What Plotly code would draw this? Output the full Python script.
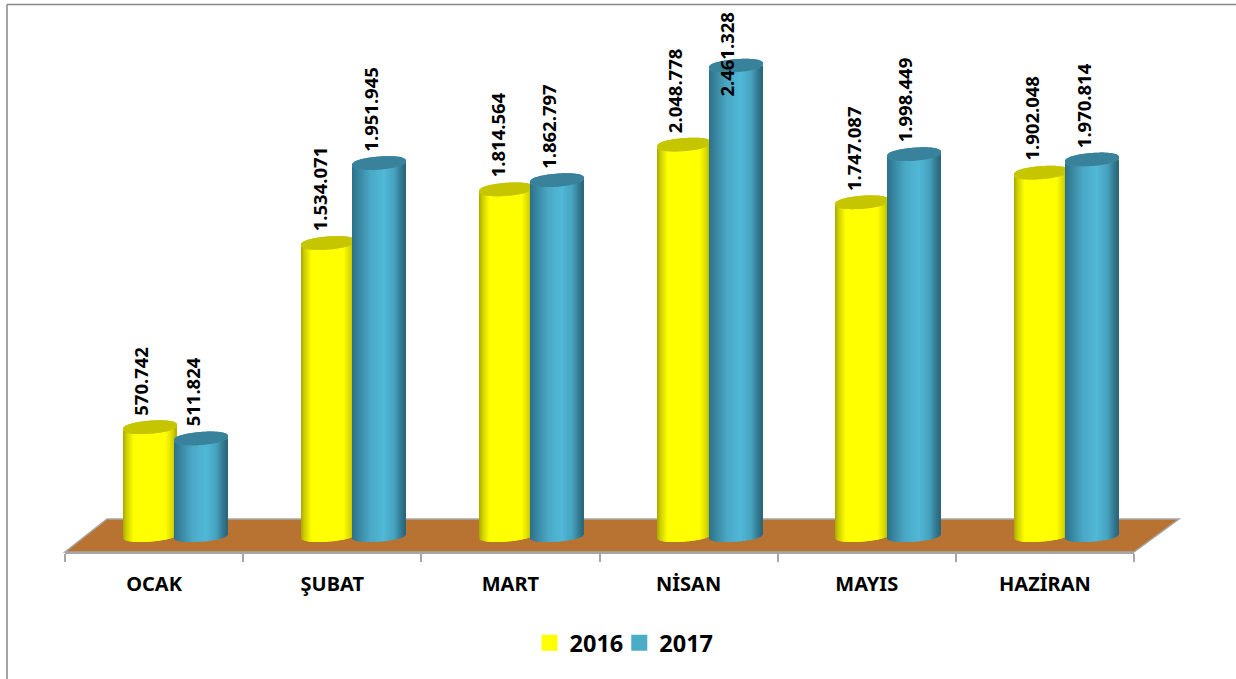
import plotly.graph_objects as go

months = ["OCAK", "ŞUBAT", "MART", "NİSAN", "MAYIS", "HAZİRAN"]
series_names = ["2016", "2017"]
values_2016 = [570742, 1534071, 1814564, 2048778, 1747087, 1902048]
values_2017 = [511824, 1951945, 1862797, 2461328, 1998449, 1970814]

W, H = 1236, 679
L, R, T, B = 65, 1134, 5, 552          # plot area in pixels
ZERO_PX = 535.6
PX_PER_UNIT = 1.912e-4
Y_MIN = -(B - ZERO_PX) / PX_PER_UNIT
Y_MAX = (ZERO_PX - T) / PX_PER_UNIT
CAT_PX = (R - L) / len(months)

BAR_W = 53.0
CENTER_SHIFT = [-4.3, 47.0]
STRIPS = 53
HALF_H = 6.5 / PX_PER_UNIT
BASE_HALF_H = 6.0 / PX_PER_UNIT
TILT = 2.0 / PX_PER_UNIT
CAP_DROP = 0.7 / PX_PER_UNIT

YELLOW_STOPS = [(0, "#a8a800"), (0.07, "#d0d000"), (0.2, "#ffff00"), (0.8, "#ffff00"), (0.93, "#d8d800"), (1, "#b0b000")]
BLUE_STOPS = [(0, "#2b7188"), (0.12, "#38859f"), (0.35, "#4aa9c6"), (0.6, "#50b8d7"), (0.8, "#45a2be"), (0.93, "#33788f"), (1, "#2a6578")]
CAPS = ["#c6c600", "#38829b"]


def shade(stops, f):
    for (a, ca), (b, cb) in zip(stops, stops[1:]):
        if f <= b:
            u = (f - a) / (b - a)
            rgb = [round(int(ca[i:i + 2], 16) * (1 - u) + int(cb[i:i + 2], 16) * u) for i in (1, 3, 5)]
            return "rgb(%d,%d,%d)" % tuple(rgb)
    return stops[-1][1]


def cylinder(vals, stops, cap, shift, name):
    xs, ys, bases, offs, cols = [], [], [], [], []
    width = (BAR_W / STRIPS + 0.05) / CAT_PX
    for part in ("body", "cap"):
        for j in range(STRIPS):
            f = (j + 0.5) / STRIPS
            t = 2 * f - 1
            s = (1 - t * t) ** 0.38
            off = (shift - BAR_W / 2 + j * BAR_W / STRIPS) / CAT_PX
            for m, v in zip(months, vals):
                if part == "body":
                    lo = TILT * t - BASE_HALF_H * s
                    hi = v - CAP_DROP + TILT * t - HALF_H * s
                    c = shade(stops, f)
                else:
                    lo = v - CAP_DROP + TILT * t - HALF_H * s
                    hi = v - CAP_DROP + TILT * t + HALF_H * s
                    c = cap
                xs.append(m); bases.append(lo); ys.append(hi - lo); offs.append(off); cols.append(c)
    return go.Bar(x=xs, y=ys, base=bases, offset=offs, width=width, name=name,
                  marker=dict(color=cols, line=dict(width=0)), showlegend=False, hoverinfo="skip")


fig = go.Figure()
fig.add_trace(cylinder(values_2016, YELLOW_STOPS, CAPS[0], CENTER_SHIFT[0], series_names[0]))
fig.add_trace(cylinder(values_2017, BLUE_STOPS, CAPS[1], CENTER_SHIFT[1], series_names[1]))

for name, col in zip(series_names, ["#ffff00", "#4bacc6"]):
    fig.add_trace(go.Scatter(x=[months[0]], y=[None], mode="markers", name=name,
                             marker=dict(symbol="square", size=16, color=col)))


def px(x):
    return (x - L) / (R - L)


def py(y):
    return (B - y) / (B - T)


FONT = "Noto Sans"
annotations = []
for vals, shift in zip([values_2016, values_2017], CENTER_SHIFT):
    for m, v in zip(months, vals):
        inside = v == max(values_2017)
        annotations.append(dict(
            x=m, y=v, xref="x", yref="y", text=f"{v:,}".replace(",", "."), textangle=-90,
            showarrow=False, xanchor="center", yanchor="bottom",
            xshift=shift - 9, yshift=-34 if inside else 9,
            font=dict(family=FONT, size=18.5, color="#000000", weight="bold"),
        ))

floor = [(65, 552), (1134, 552), (1179, 519), (107, 519)]
path = "M" + " L".join(f"{px(a):.5f},{py(b):.5f}" for a, b in floor) + " Z"
shapes = [
    dict(type="path", xref="paper", yref="paper", path=path, fillcolor="#b87333",
         line=dict(color="#a6a6a6", width=1.5), layer="below"),
    dict(type="line", xref="paper", yref="paper", x0=px(7), x1=px(W), y0=py(4.5), y1=py(4.5),
         line=dict(color="#868686", width=1.5)),
    dict(type="line", xref="paper", yref="paper", x0=px(7), x1=px(7), y0=py(4.5), y1=py(H),
         line=dict(color="#868686", width=1.5)),
]

fig.update_layout(
    width=W, height=H, autosize=False,
    margin=dict(l=L, r=W - R, t=T, b=H - B, pad=0),
    paper_bgcolor="#ffffff", plot_bgcolor="rgba(0,0,0,0)",
    barmode="overlay",
    font=dict(family=FONT, color="#000000"),
    annotations=annotations, shapes=shapes,
    hovermode=False,
    legend=dict(orientation="h", x=px(628.5), y=py(643), xanchor="center", yanchor="middle",
                font=dict(family=FONT, size=23.5, weight="bold"), itemwidth=30, indentation=-9,
                bgcolor="rgba(0,0,0,0)"),
    xaxis=dict(type="category", categoryorder="array", categoryarray=months, range=[-0.5, 5.5],
               tickson="boundaries", ticks="outside", ticklen=8, tickwidth=1.5, tickcolor="#a6a6a6",
               showline=True, linecolor="#a6a6a6", linewidth=1.5, showgrid=False, zeroline=False,
               tickfont=dict(family=FONT, size=20, weight="bold"), ticklabelstandoff=13),
    yaxis=dict(range=[Y_MIN, Y_MAX], visible=False, showgrid=False, zeroline=False),
)

fig.write_html("out.html", config={"displayModeBar": False},
               post_script="document.body.style.margin='0';document.body.style.overflow='hidden';")
